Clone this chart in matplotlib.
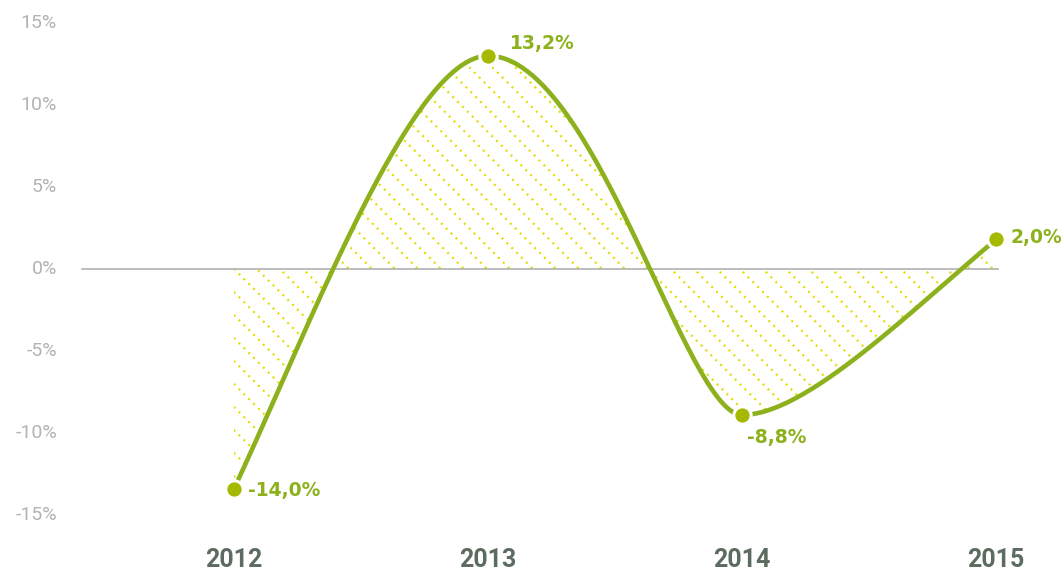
import numpy as np
import matplotlib
matplotlib.use("Agg")
import matplotlib.pyplot as plt
from matplotlib import font_manager

years = [2012, 2013, 2014, 2015]
values = [-13.4, 13.0, -8.9, 1.8]
value_labels = ['-14,0%', '13,2%', '-8,8%', '2,0%']
year_labels = ['2012', '2013', '2014', '2015']
yticks = [15, 10, 5, 0, -5, -10, -15]
ytick_labels = ['15%', '10%', '5%', '0%', '-5%', '-10%', '-15%']

LINE = '#8cb11c'
DOT = '#a5b900'
HATCH = '#e3dd00'
YEARC = '#5c6c61'
GRAYT = '#b3b3b3'

W, H = 1061, 578
fig = plt.figure(figsize=(W / 100, H / 100), dpi=100)
ax = fig.add_axes([0, 0, 1, 1])
ax.set_axis_off()

# pixel mapping
x0px, xstep = 234, 254.0
y0px, ystep = 269, 16.4
xlim = (years[0] - x0px / xstep, years[0] + (W - x0px) / xstep)
ylim = (-(H - y0px) / ystep, y0px / ystep)
ax.set_xlim(*xlim)
ax.set_ylim(*ylim)


def has_font(name):
    try:
        font_manager.findfont(name, fallback_to_default=False)
        return True
    except Exception:
        return False


narrow = 'Liberation Sans Narrow' if has_font('Liberation Sans Narrow') else 'Roboto'

# curve shape: tangent slopes (%/yr) and handle lengths (yr) at each point
slopes = [33.0, 0.0, 0.0, 13.0]
h_out = [0.30, 0.42, 0.25, 0.0]
h_in = [0.0, 0.30, 0.22, 0.35]


def bezier(p0, c0, c1, p1, n=120):
    t = np.linspace(0, 1, n)[:, None]
    return ((1 - t) ** 3) * p0 + 3 * t * (1 - t) ** 2 * c0 + 3 * t ** 2 * (1 - t) * c1 + t ** 3 * p1


pts = []
for i in range(len(years) - 1):
    p0 = np.array([years[i], values[i]])
    p1 = np.array([years[i + 1], values[i + 1]])
    c0 = p0 + h_out[i] * np.array([1, slopes[i]])
    c1 = p1 - h_in[i + 1] * np.array([1, slopes[i + 1]])
    seg = bezier(p0, c0, c1, p1)
    pts.append(seg if i == 0 else seg[1:])
curve = np.vstack(pts)
cx, cy = curve[:, 0], curve[:, 1]

# hatched area between curve and zero (dotted diagonals clipped to the area)
poly = ax.fill_between(cx, cy, 0, facecolor='none', edgecolor='none')
clip_path = poly.get_paths()[0]
sx = W / (xlim[1] - xlim[0])
sy = H / (ylim[1] - ylim[0])
spacing = 23.0 / sx
xs = np.array([xlim[0], xlim[1]])
for k in np.arange(-60, 60):
    xa = years[0] + k * spacing
    ys = -(xs - xa) * sx / sy
    ln, = ax.plot(xs, ys, color=HATCH, lw=1.6, ls=(0, (0.9, 2.2)), zorder=1)
    ln.set_clip_path(clip_path, ax.transData)

# zero line
ax.plot([years[0] - 152 / xstep, years[-1] + 2 / xstep], [0, 0], color='#aaaaaa', lw=1.1, zorder=2)

ax.plot(cx, cy, color=LINE, lw=3.3, solid_capstyle='round', zorder=3)
ax.plot(years, values, 'o', ms=12.5, color=DOT, mec='white', mew=2.2, zorder=4)

offsets = [(14, -2), (22, 12), (5, -23), (14, 2)]
for x, v, lab, off in zip(years, values, value_labels, offsets):
    ax.annotate(lab, (x, v), xytext=off, textcoords='offset pixels', ha='left', va='center',
                fontsize=13.5, fontweight='bold', color=LINE, family='DejaVu Sans')

for v, lab in zip(yticks, ytick_labels):
    ax.text(57 / W, v, lab, transform=ax.get_yaxis_transform(), ha='right', va='center',
            fontsize=14, color=GRAYT, family='Roboto')

for x, lab in zip(years, year_labels):
    ax.text(x, 6 / H, lab, transform=ax.get_xaxis_transform(), ha='center', va='bottom',
            fontsize=18, fontweight='bold', color=YEARC, family=narrow)

fig.savefig('out.png', dpi=100)
